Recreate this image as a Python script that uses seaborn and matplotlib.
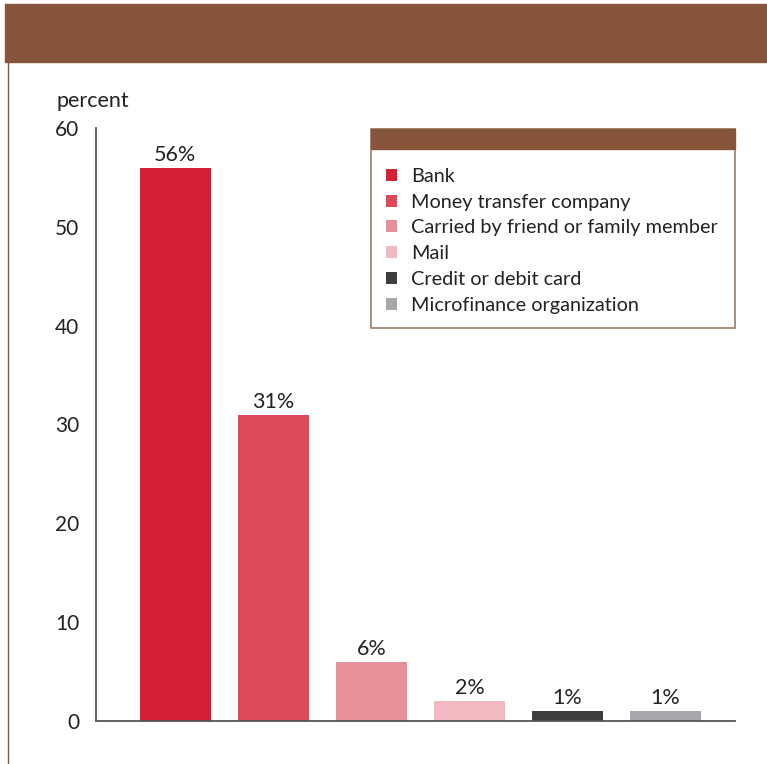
import matplotlib
matplotlib.use("Agg")
import matplotlib.pyplot as plt
from matplotlib.patches import Rectangle, Patch
from matplotlib.lines import Line2D
import seaborn as sns
import pandas as pd

categories = ["Bank", "Money transfer company", "Carried by friend or family member",
              "Mail", "Credit or debit card", "Microfinance organization"]
values = [56, 31, 6, 2, 1, 1]
labels = ["56%", "31%", "6%", "2%", "1%", "1%"]
yticks = [0, 10, 20, 30, 40, 50, 60]
colors = ["#D72035", "#DF4A58", "#E8909A", "#F2BAC0", "#3E3E3E", "#A6A7AB"]

sns.set_theme(style="white")
plt.rcParams["font.family"] = ["Lato", "DejaVu Sans"]

W, H = 767, 764
fig = plt.figure(figsize=(W / 100, H / 100), dpi=100)
ax = fig.add_axes([96 / W, 1 - 721 / H, (735 - 96) / W, (721 - 128) / H])

df = pd.DataFrame({"cat": categories, "val": values})
sns.barplot(data=df, x="cat", y="val", hue="cat", palette=colors, order=categories,
            hue_order=categories, legend=False, width=0.724, saturation=1, ax=ax,
            linewidth=0)

ax.set_ylim(0, 60)
ax.set_xlim(-0.81, 5.71)
ax.set_yticks(yticks)
ax.set_yticklabels([str(t) for t in yticks], fontsize=15, color="#222222")
ax.set_xticks([])
ax.set_xlabel("")
ax.set_ylabel("")
ax.tick_params(axis="y", direction="in", length=7, width=1, color="#555555", pad=12)
for s in ["top", "right"]:
    ax.spines[s].set_visible(False)
for s in ["left", "bottom"]:
    ax.spines[s].set_color("#555555")
    ax.spines[s].set_linewidth(1.3)

for i, (v, lab) in enumerate(zip(values, labels)):
    ax.annotate(lab, (i, v), xytext=(0, 2), textcoords="offset points",
                ha="center", va="bottom", fontsize=15.5, color="#222222")

# banner and left rule
fig.patches.append(Rectangle((5 / W, 1 - 62 / H), 1 - 5 / W, 58 / H,
                             transform=fig.transFigure, color="#85543A", zorder=0))
fig.lines.append(Line2D([8 / W, 8 / W], [0, 1 - 62 / H], transform=fig.transFigure,
                        color="#85543A", lw=1))

fig.text(57 / W, 1 - 101 / H, "percent", fontsize=15.5, va="center", ha="left",
         color="#222222")

# legend box
lx0, lx1, ly0, ly1 = 371, 735, 129, 328
ax.add_patch(Rectangle((lx0 / W, 1 - ly1 / H), (lx1 - lx0) / W, (ly1 - ly0) / H,
                       transform=fig.transFigure, facecolor="white",
                       edgecolor="#A07A66", lw=1.2, zorder=4, clip_on=False))
ax.add_patch(Rectangle((lx0 / W, 1 - 149 / H), (lx1 - lx0) / W, 20 / H,
                       transform=fig.transFigure, color="#85543A", zorder=4.5,
                       clip_on=False))

handles = [Patch(facecolor=c, edgecolor="none") for c in colors]
leg = ax.legend(handles, categories, loc="upper left",
                bbox_to_anchor=(386 / W, 1 - 168 / H), bbox_transform=fig.transFigure,
                frameon=False, fontsize=14.3, handlelength=0.55, handleheight=0.55,
                handletextpad=0.7, labelspacing=0.44, borderaxespad=0, borderpad=0)
for t in leg.get_texts():
    t.set_color("#222222")
leg.set_zorder(5)

fig.savefig("out.png", dpi=100)
